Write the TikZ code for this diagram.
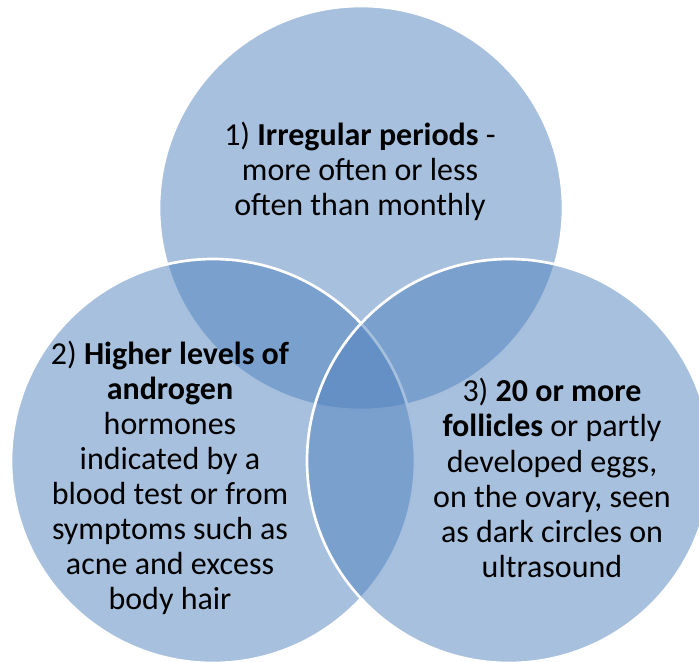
\documentclass[tikz,border=0pt]{standalone}
\usepackage{fontspec}
\setmainfont{Carlito}
\definecolor{venn}{HTML}{4F81BD}

\begin{document}
\begin{tikzpicture}[x=0.75pt,y=-0.75pt,
  ring/.style={circle,draw=white,line width=2pt,fill=venn,fill opacity=0.5,minimum size=303pt,inner sep=0pt},
  txt/.style={align=center,font=\fontsize{24}{26.3}\selectfont,text=black,inner sep=0pt}
]
\useasboundingbox (0,0) rectangle (699,661);
\clip (0,0) rectangle (699,661);
\node[ring] (periods) at (361,208) {};
\node[ring] (androgen) at (213,461) {};
\node[ring] (follicles) at (509,461) {};
\node[txt] (periodstext) at (360,171) {1) \textbf{Irregular periods} -\\more often or less\\often than monthly};
\node[txt] (androgentext) at (170,478) {2) \textbf{Higher levels of}\\\textbf{androgen}\\hormones\\indicated by a\\blood test or from\\symptoms such as\\acne and excess\\body hair};
\node[txt] (folliclestext) at (552,478) {3) \textbf{20 or more}\\\textbf{follicles} or partly\\developed eggs,\\on the ovary, seen\\as dark circles on\\ultrasound};
\end{tikzpicture}
\end{document}
